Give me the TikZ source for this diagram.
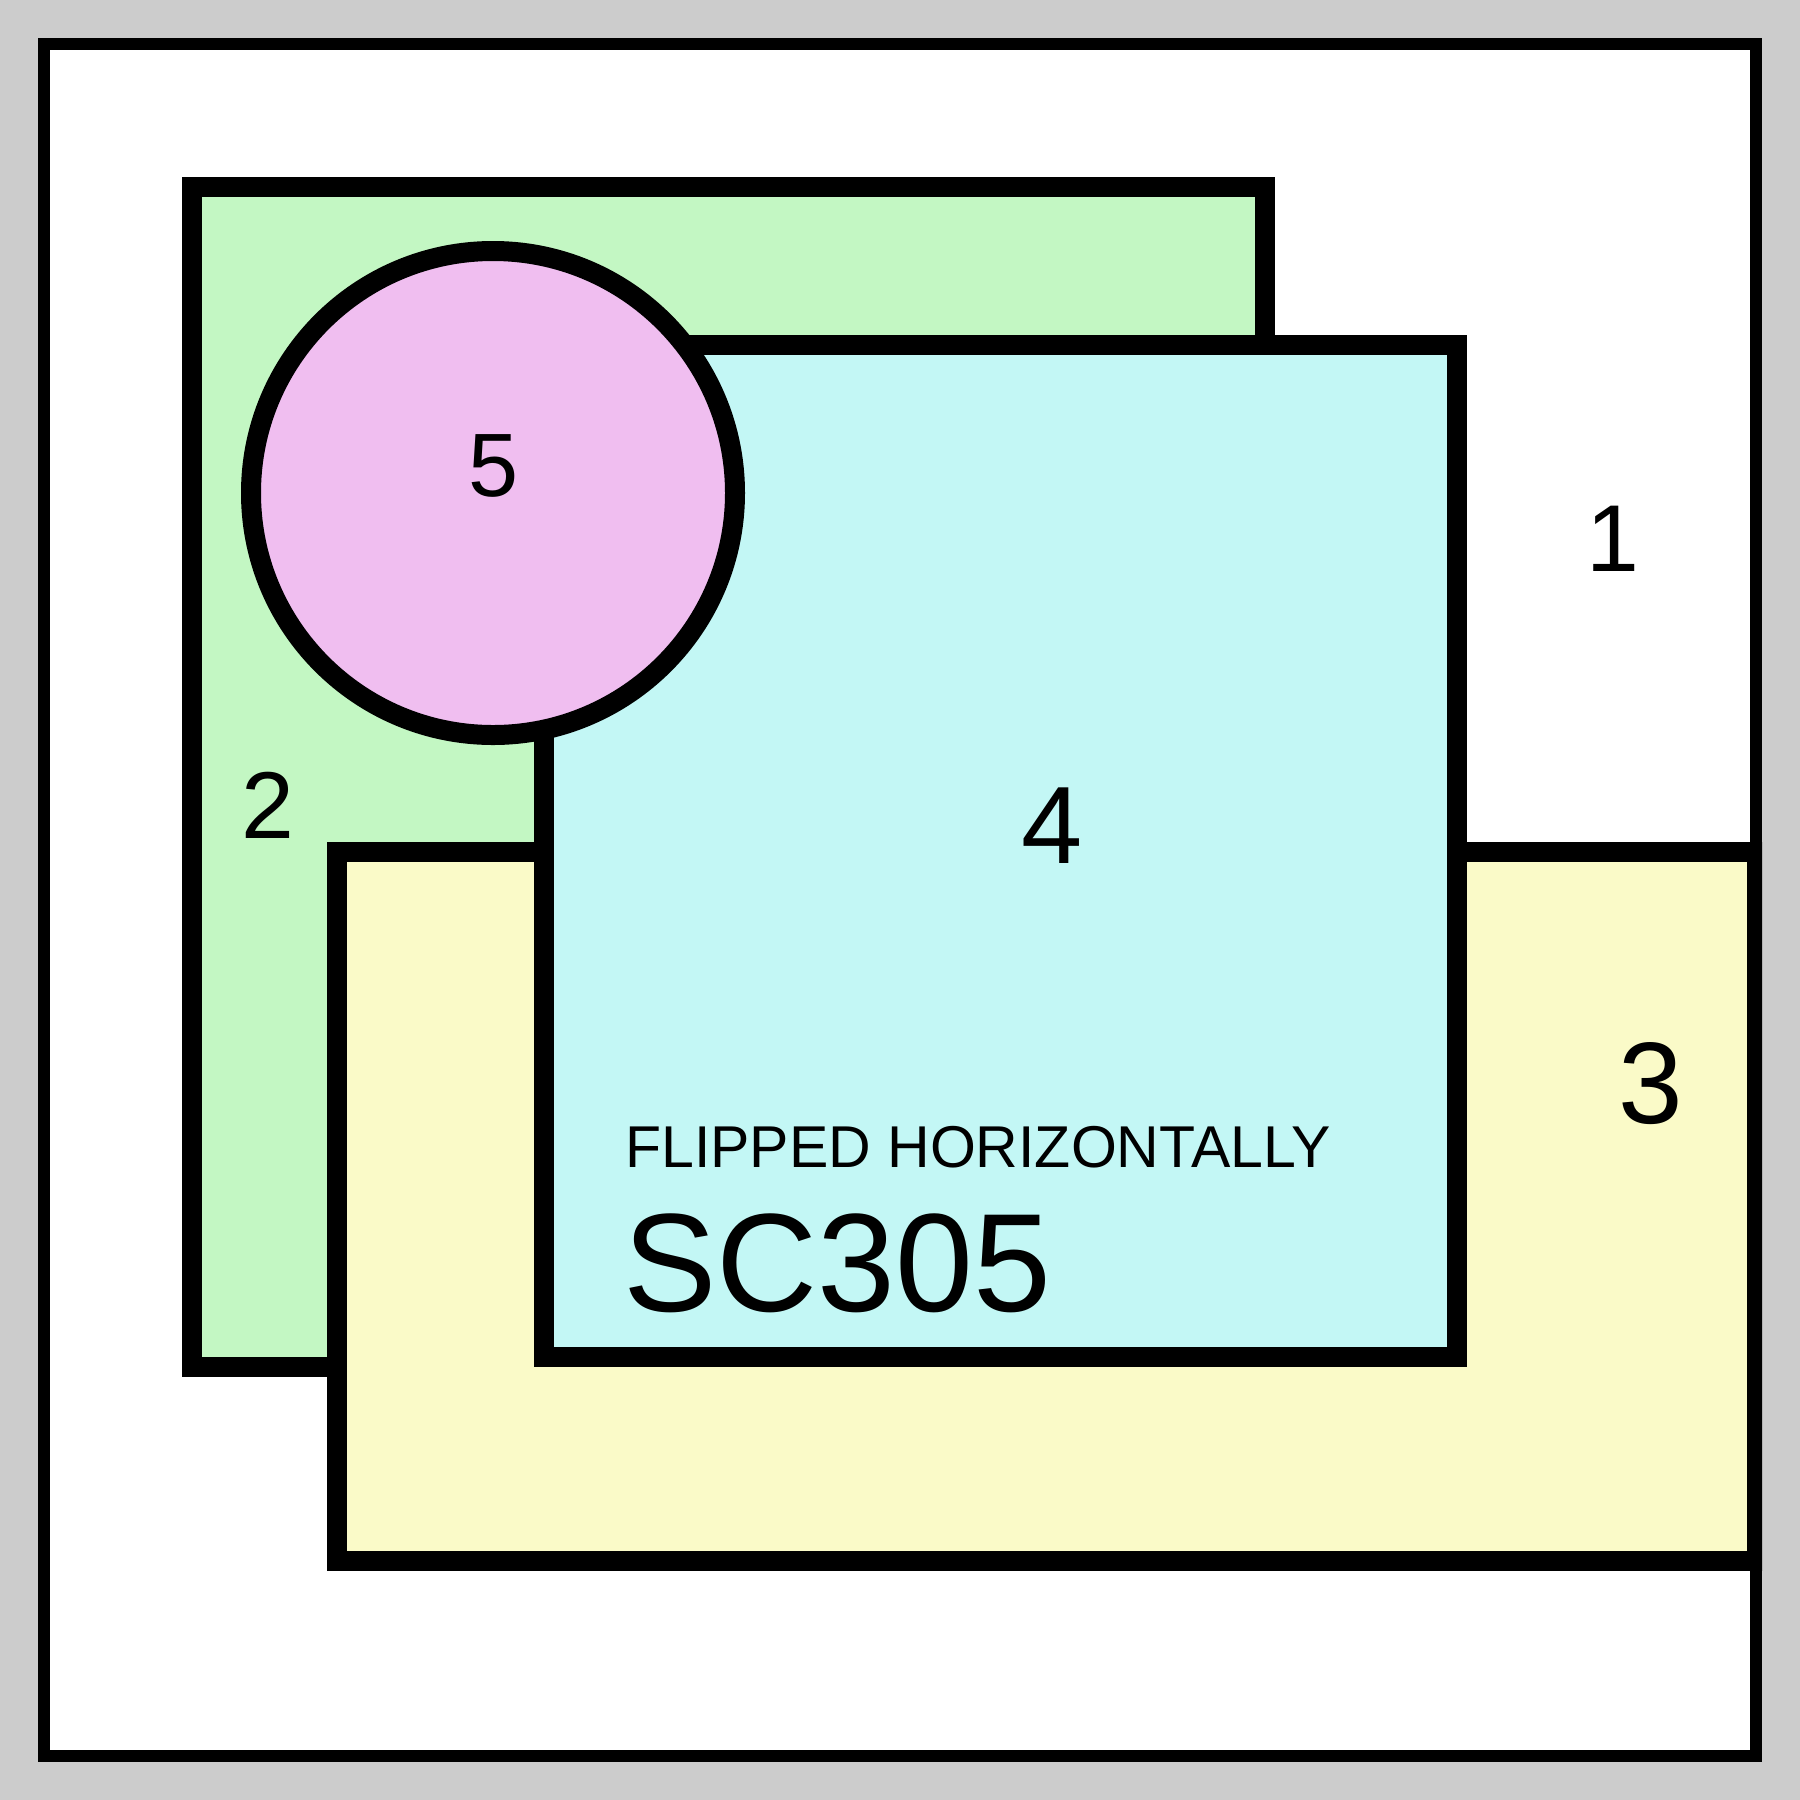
\documentclass[tikz,border=0pt]{standalone}
\usepackage{fontspec}
\setmainfont{Liberation Sans}
\definecolor{bggray}{HTML}{CCCCCC}
\definecolor{pgreen}{HTML}{C3F7C3}
\definecolor{pcyan}{HTML}{C3F7F5}
\definecolor{pyellow}{HTML}{FAFAC8}
\definecolor{ppink}{HTML}{F0BEF0}
\tikzset{
  panel/.style={draw=black, line width=20pt, line join=miter},
  lbl/.style={inner sep=0pt, anchor=base, text=black},
}
\begin{document}
\begin{tikzpicture}[x=1pt,y=-1pt]
\useasboundingbox (0,0) rectangle (1800,1800);
\fill[bggray] (0,0) rectangle (1800,1800);
\fill[white] (38,38) rectangle (1762,1762);
\begin{scope}
\clip (38,38) rectangle (1762,1762);
\draw[panel, fill=pgreen] (192,187) rectangle (1265,1367);
\draw[panel, fill=pyellow] (337,852) rectangle (1757,1561);
\draw[panel, fill=pcyan] (544,345) rectangle (1457,1357);
\draw[panel, fill=ppink] (493,493) circle (242);
\end{scope}
\draw[line width=12pt] (44,44) rectangle (1756,1756);
\node[lbl, font=\fontsize{95}{95}\selectfont] (n1) at (1613,571) {1};
\node[lbl, font=\fontsize{95}{95}\selectfont] (n2) at (268,838) {2};
\node[lbl, font=\fontsize{116}{116}\selectfont] (n3) at (1651,1123) {3};
\node[lbl, font=\fontsize{110}{110}\selectfont] (n4) at (1052,863) {4};
\node[lbl, font=\fontsize{90}{90}\selectfont] (n5) at (494,496) {5};
\node[inner sep=0pt, anchor=base west, font=\fontsize{59}{59}\selectfont] (flip) at (625,1167) {FLIPPED HORIZONTALLY};
\node[inner sep=0pt, anchor=base west, font=\fontsize{140}{140}\selectfont] (sc) at (623,1311) {SC305};
\end{tikzpicture}
\end{document}
